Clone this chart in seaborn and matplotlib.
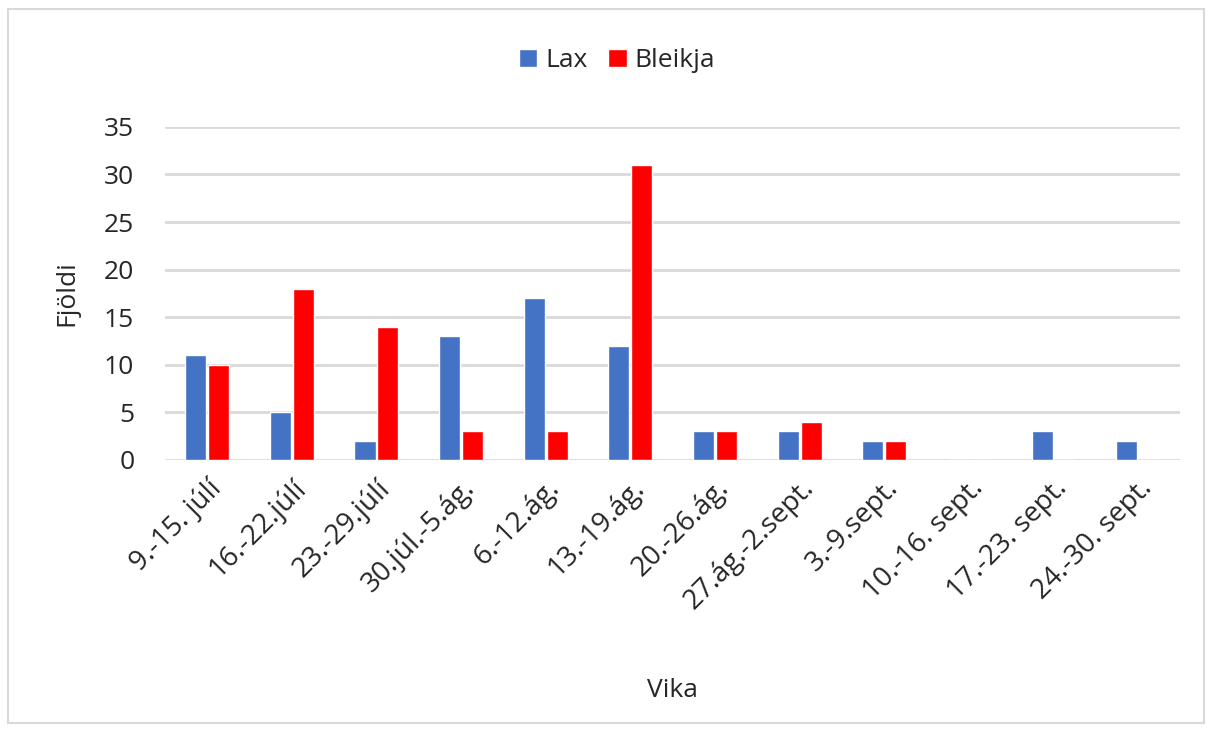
import pandas as pd
import seaborn as sns
import matplotlib.pyplot as plt
from matplotlib.patches import Rectangle

# Weekly counts
weeks = ["9.-15. júlí", "16.-22.júlí", "23.-29.júlí", "30.júl.-5.ág.", "6.-12.ág.",
         "13.-19.ág.", "20.-26.ág.", "27.ág.-2.sept.", "3.-9.sept.", "10.-16. sept.",
         "17.-23. sept.", "24.-30. sept."]
lax = [11, 5, 2, 13, 17, 12, 3, 3, 2, 0, 3, 2]
bleikja = [10, 18, 14, 3, 3, 31, 3, 4, 2, 0, 0, 0]

df = pd.DataFrame({"Vika": weeks * 2,
                   "Fjöldi": lax + bleikja,
                   "Tegund": ["Lax"] * len(weeks) + ["Bleikja"] * len(weeks)})

sns.set_style("white")
plt.rcParams['font.family'] = ['Open Sans', 'DejaVu Sans']

fig = plt.figure(figsize=(12.12, 7.29), dpi=100)
ax = fig.add_axes([0.136, 0.369, 0.838, 0.457])

sns.barplot(data=df, x="Vika", y="Fjöldi", hue="Tegund",
            palette={"Lax": "#4472C4", "Bleikja": "#FF0000"}, saturation=1,
            width=0.54, gap=0.08, ax=ax, zorder=3)

ax.set_ylim(0, 35)
ax.set_yticks(range(0, 36, 5))
ax.set_xlim(-0.5, len(weeks) - 0.5)
ax.yaxis.grid(True, color="#D9D9D9", linewidth=2, zorder=0)
ax.set_axisbelow(True)
sns.despine(ax=ax, left=True, bottom=True)
ax.tick_params(axis="y", length=0, labelsize=19, pad=22)
ax.tick_params(axis="x", length=0, labelsize=20, pad=10)
plt.setp(ax.get_xticklabels(), rotation=45, ha="right", rotation_mode="anchor")

ax.set_xlabel("Vika", fontsize=19, labelpad=45)
ax.set_ylabel("Fjöldi", fontsize=19, labelpad=18)

# legend sits centred on the whole picture, not the axes
ax.legend(loc="center", bbox_to_anchor=(0.509, 0.917), bbox_transform=fig.transFigure,
          ncol=2, frameon=False, fontsize=19, handlelength=0.7, handleheight=0.7,
          columnspacing=0.8, handletextpad=0.3)

# light frame around the picture
fig.patches.append(Rectangle((0.007, 0.008), 0.986, 0.98, transform=fig.transFigure,
                             fill=False, edgecolor="#D9D9D9", linewidth=1.5))

fig.savefig("out.png", dpi=100)
